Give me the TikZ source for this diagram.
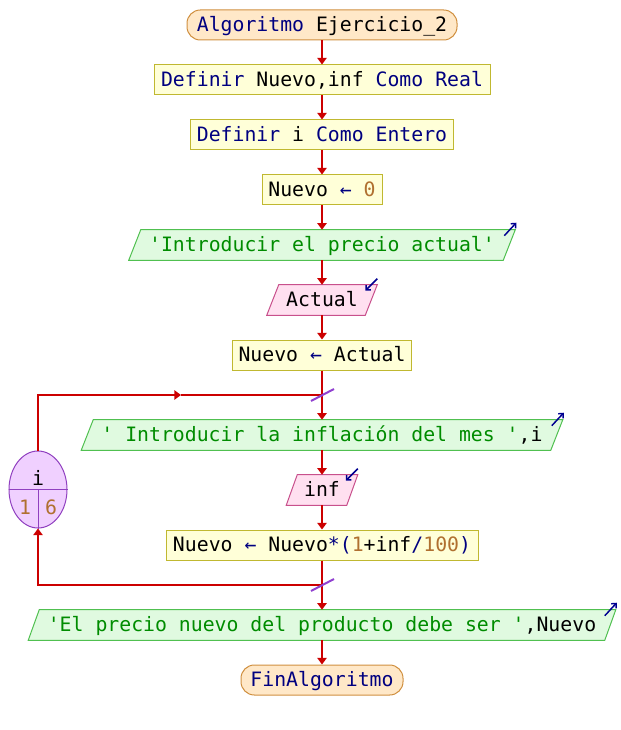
\documentclass[tikz,border=0pt]{standalone}
\usepackage{fontspec}
\setmonofont{DejaVu Sans Mono}
\usetikzlibrary{arrows.meta,shapes.geometric,backgrounds}
\definecolor{kwc}{RGB}{0,0,128}
\definecolor{strc}{RGB}{0,140,0}
\definecolor{numc}{RGB}{176,112,48}
\definecolor{flowred}{RGB}{204,0,0}
\definecolor{termfill}{RGB}{255,232,200}
\definecolor{termdraw}{RGB}{208,144,64}
\definecolor{procfill}{RGB}{255,255,216}
\definecolor{procdraw}{RGB}{192,184,48}
\definecolor{outfill}{RGB}{224,250,224}
\definecolor{outdraw}{RGB}{80,192,80}
\definecolor{infill}{RGB}{255,224,240}
\definecolor{indraw}{RGB}{200,80,140}
\definecolor{loopfill}{RGB}{240,208,255}
\definecolor{loopdraw}{RGB}{144,64,192}
\definecolor{iconcol}{RGB}{0,0,144}
\definecolor{slashc}{RGB}{144,64,208}
\newcommand{\kwd}[1]{\textcolor{kwc}{#1}}
\newcommand{\strg}[1]{\textcolor{strc}{#1}}
\newcommand{\numb}[1]{\textcolor{numc}{#1}}
\newcommand{\opr}[1]{\textcolor{kwc}{#1}}
% parallelogram background + icon
\newcommand{\iopoly}[4]{%
  \begin{scope}[on background layer]
    \draw[fill=#2, draw=#3, line width=0.75pt]
      ([xshift=-#4*0.75pt]#1.south west) -- ([xshift=#4*0.75pt]#1.north west)
      -- ([xshift=#4*0.75pt]#1.north east) -- ([xshift=-#4*0.75pt]#1.south east) -- cycle;
  \end{scope}}
\newcommand{\outicon}[2]{\draw[icon] ([shift={(#2-11,6)}]#1.north east) -- ++(12,-13);}
\newcommand{\inicon}[2]{\draw[icon] ([shift={(#2,-6)}]#1.north east) -- ++(-12,12);}
\begin{document}
\begin{tikzpicture}[x=0.75pt,y=-0.75pt,
  base/.style={inner sep=0pt, font=\ttfamily\fontsize{14.85}{17}\selectfont, text height=12pt, text depth=2.2pt},
  term/.style={base, draw=termdraw, fill=termfill, line width=0.75pt, rounded corners=10pt, minimum height=30*0.75pt, minimum width=#1*0.75pt},
  proc/.style={base, draw=procdraw, fill=procfill, line width=0.75pt, minimum height=30*0.75pt, minimum width=#1*0.75pt},
  iobox/.style={base, minimum height=30*0.75pt, minimum width=#1*0.75pt},
  flow/.style={draw=flowred, line width=1.5pt, -{Triangle[length=5pt,width=7pt]}},
  plain/.style={draw=flowred, line width=1.5pt},
  icon/.style={draw=iconcol, line width=1.1pt, -{Straight Barb[length=2.6pt,width=5pt]}},
  slashmark/.style={draw=slashc, line width=1.5pt},
  loopline/.style={draw=loopdraw, line width=0.75pt}
]
\useasboundingbox (0,0) rectangle (620,730);

\node[term=270] (start) at (322,25) {\kwd{Algoritmo} Ejercicio\_2};
\node[proc=336] (def1) at (322,80) {\kwd{Definir} Nuevo,inf \kwd{Como} \kwd{Real}};
\node[proc=263] (def2) at (322,135) {\kwd{Definir} i \kwd{Como} \kwd{Entero}};
\node[proc=120] (asig1) at (322,190) {Nuevo \opr{←} \numb{0}};
\node[iobox=374] (out1) at (322,245) {\strg{'Introducir el precio actual'}};
\node[iobox=98] (in1) at (322,300) {Actual};
\node[proc=179] (asig2) at (322,355) {Nuevo \opr{←} Actual};
\node[iobox=469] (out2) at (322,435) {\strg{' Introducir la inflación del mes '},i};
\node[iobox=60] (in2) at (322,490) {inf};
\node[proc=312] (asig3) at (322,545) {Nuevo \opr{←} Nuevo\opr{*}\opr{(}\numb{1}+inf\opr{/}\numb{100}\opr{)}};
\node[iobox=576] (out3) at (322,625) {\strg{'El precio nuevo del producto debe ser '},Nuevo};
\node[term=162] (fin) at (322,680) {\kwd{FinAlgoritmo}};

\iopoly{out1}{outfill}{outdraw}{6}
\iopoly{in1}{infill}{indraw}{6}
\iopoly{out2}{outfill}{outdraw}{6}
\iopoly{in2}{infill}{indraw}{5.5}
\iopoly{out3}{outfill}{outdraw}{5.5}

\outicon{out1}{6}
\inicon{in1}{6}
\outicon{out2}{6}
\inicon{in2}{5.5}
\outicon{out3}{5.5}

% loop counter
\node[ellipse, draw=loopdraw, fill=loopfill, line width=0.75pt, inner sep=0pt,
      minimum width=58*0.75pt, minimum height=77*0.75pt] (loop) at (38,489.5) {};
\draw[loopline] (loop.west) -- (loop.east);
\draw[loopline] (loop.center) -- (loop.south);
\node[base] (lvar) at (38,479) {i};
\node[base] (lfrom) at (25,508) {\numb{1}};
\node[base] (lto) at (51,508) {\numb{6}};

\coordinate (j1) at (322,395);
\coordinate (j2) at (322,585);
\coordinate (mk) at (181,395);

\draw[flow] (start) -- (def1);
\draw[flow] (def1) -- (def2);
\draw[flow] (def2) -- (asig1);
\draw[flow] (asig1) -- (out1);
\draw[flow] (out1) -- (in1);
\draw[flow] (in1) -- (asig2);
\draw[plain] (asig2) -- (j1);
\draw[flow] (j1) -- (out2);
\draw[flow] (out2) -- (in2);
\draw[flow] (in2) -- (asig3);
\draw[plain] (asig3) -- (j2);
\draw[flow] (j2) -- (out3);
\draw[flow] (out3) -- (fin);
\draw[flow] (loop) |- (mk);
\draw[plain] (mk) -- (j1);
\draw[flow] (j2) -| (loop);

\draw[slashmark] ([shift={(-11,6)}]j1) -- ([shift={(12,-6)}]j1);
\draw[slashmark] ([shift={(-11,6)}]j2) -- ([shift={(12,-6)}]j2);
\end{tikzpicture}
\end{document}
